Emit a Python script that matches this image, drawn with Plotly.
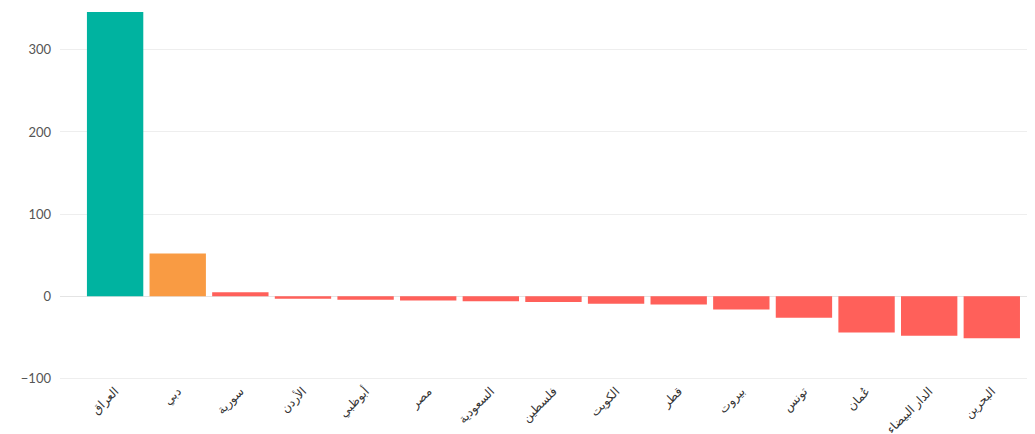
import plotly.graph_objects as go

cities = ["العراق", "دبي", "سورية", "الأردن", "أبوظبي", "مصر", "السعودية", "فلسطين",
          "الكويت", "قطر", "بيروت", "تونس", "عُمان", "الدار البيضاء", "البحرين"]
values = [346, 52, 5, -3, -4, -5, -6, -7, -9, -10, -16, -26, -44, -48, -51]
colors = ["#00b3a0", "#f99b43"] + ["#ff605a"] * 13

fig = go.Figure(go.Bar(x=cities, y=values, marker=dict(color=colors, line=dict(width=0))))
fig.update_layout(
    width=1027, height=426,
    margin=dict(l=52, r=5, t=4, b=53),
    plot_bgcolor="white", paper_bgcolor="white",
    bargap=0.1, showlegend=False,
    font=dict(family="Lato, DejaVu Sans, sans-serif", color="#444", size=12),
)
fig.update_xaxes(tickangle=-45, showgrid=False, ticks="", automargin=False,
                 range=[-0.88, 14.61], tickfont=dict(size=12, color="#333"))
fig.update_yaxes(range=[-103, 346], tickvals=[-100, 0, 100, 200, 300], gridcolor="#eeeeee",
                 zeroline=True, zerolinecolor="#e4e4e4", zerolinewidth=1, automargin=False,
                 ticklabelstandoff=8, tickfont=dict(size=13, color="#555"))
fig.write_html("out.html")
